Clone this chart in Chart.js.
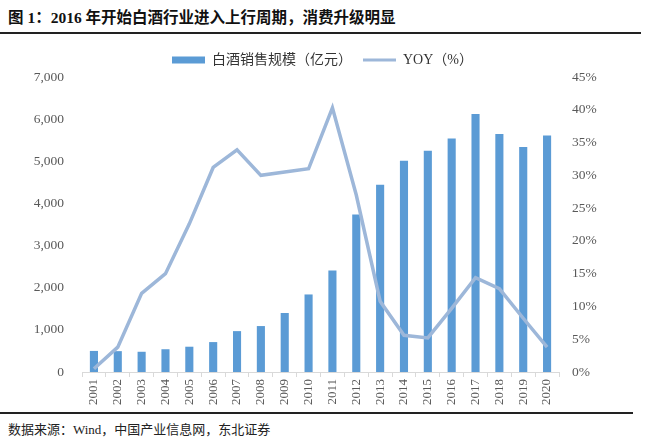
<!DOCTYPE html>
<html><head><meta charset="utf-8">
<script src="https://cdn.jsdelivr.net/npm/chart.js@4/dist/chart.umd.min.js"></script>
<style>
html,body{margin:0;padding:0;background:#fff;width:645px;height:447px;overflow:hidden;position:relative;}
#title{position:absolute;left:8px;top:5px;font-family:"Liberation Serif","Noto Sans CJK SC",serif;font-weight:bold;font-size:15.5px;color:#111;white-space:nowrap;}
#hl1{position:absolute;left:0;top:32px;width:641px;height:1.5px;background:#222;}
#hl2{position:absolute;left:0;top:412px;width:633px;height:1.5px;background:#222;}
#src{position:absolute;left:8px;top:419px;font-family:"Liberation Serif","Noto Sans CJK SC",serif;font-size:13px;color:#222;white-space:nowrap;}
#wrap{position:absolute;left:0;top:40px;width:645px;height:370px;}
</style></head><body>
<div id="title">图 1：2016 年开始白酒行业进入上行周期，消费升级明显</div>
<div id="hl1"></div>
<div id="wrap"><canvas id="c"></canvas></div>
<div id="hl2"></div>
<div id="src">数据来源：Wind，中国产业信息网，东北证券</div>
<script>
const years = ['2001','2002','2003','2004','2005','2006','2007','2008','2009','2010','2011','2012','2013','2014','2015','2016','2017','2018','2019','2020'];
const salesScale = [500,495,480,540,600,710,970,1090,1400,1840,2410,3735,4445,5010,5250,5540,6120,5650,5340,5610];
const yoyPct = [0.5,3.8,12,15,22.6,31.2,33.9,30,30.5,31,40.3,27,10.8,5.6,5.2,9.7,14.4,12.7,8.2,3.8];
const leftTicks = [0,1000,2000,3000,4000,5000,6000,7000];
const rightTicks = [0,5,10,15,20,25,30,35,40,45];
const seriesNames = ['白酒销售规模（亿元）','YOY（%）'];

const serif = '"Liberation Serif","Noto Sans CJK SC",serif';
new Chart(document.getElementById('c'), {
  data: {
    labels: years,
    datasets: [
      {type:'line', label: seriesNames[1], data: yoyPct, yAxisID:'y1', borderColor:'#9DB7D9', backgroundColor:'#9DB7D9', borderWidth:3.5, pointRadius:0, tension:0, order:0},
      {type:'bar', label: seriesNames[0], data: salesScale, yAxisID:'y', backgroundColor:'#5B9BD5', barPercentage:0.34, categoryPercentage:1, order:1}
    ]
  },
  options: {
    responsive:true, maintainAspectRatio:false, animation:false,
    layout:{padding:{left:0,right:0,top:2,bottom:0}},
    plugins:{
      tooltip:{enabled:false},
      legend:{
        position:'top',
        reverse:true,
        labels:{
          usePointStyle:true, pointStyleWidth:33, boxHeight:7,
          font:{family:serif,size:14}, color:'#333', padding:11,
          generateLabels(chart){
            return chart.data.datasets.map((ds,i)=>({
              text: ds.label, fillStyle: ds.type==='bar'?ds.backgroundColor:ds.borderColor,
              strokeStyle: ds.type==='bar'?ds.backgroundColor:ds.borderColor,
              lineWidth: ds.type==='bar'?0:3, pointStyle: ds.type==='bar'?'rect':'line',
              datasetIndex:i, hidden:false, fontColor:'#333'
            }));
          }
        }
      }
    },
    scales:{
      x:{
        offset:true,
        grid:{offset:true, drawOnChartArea:false, drawTicks:true, tickLength:5, color:'#D9D9D9'},
        border:{display:true,color:'#D9D9D9'},
        ticks:{maxRotation:90,minRotation:90,color:'#595959',font:{family:serif,size:13},padding:2},
        afterFit(s){ s.height = 38; }
      },
      y:{
        position:'left', min:0, max:7000,
        afterBuildTicks(s){ s.ticks = leftTicks.map(v=>({value:v})); },
        grid:{display:false}, border:{display:false},
        ticks:{color:'#595959',font:{family:serif,size:13.5},padding:10, callback:v=>v.toLocaleString('en-US')},
        afterFit(s){ s.width = 82; }
      },
      y1:{
        position:'right', min:0, max:45,
        afterBuildTicks(s){ s.ticks = rightTicks.map(v=>({value:v})); },
        grid:{display:false}, border:{display:false},
        ticks:{color:'#595959',font:{family:serif,size:13.5},padding:5, callback:v=>v+'%'},
        afterFit(s){ s.width = 86; }
      }
    }
  }
});
</script>
</body></html>
